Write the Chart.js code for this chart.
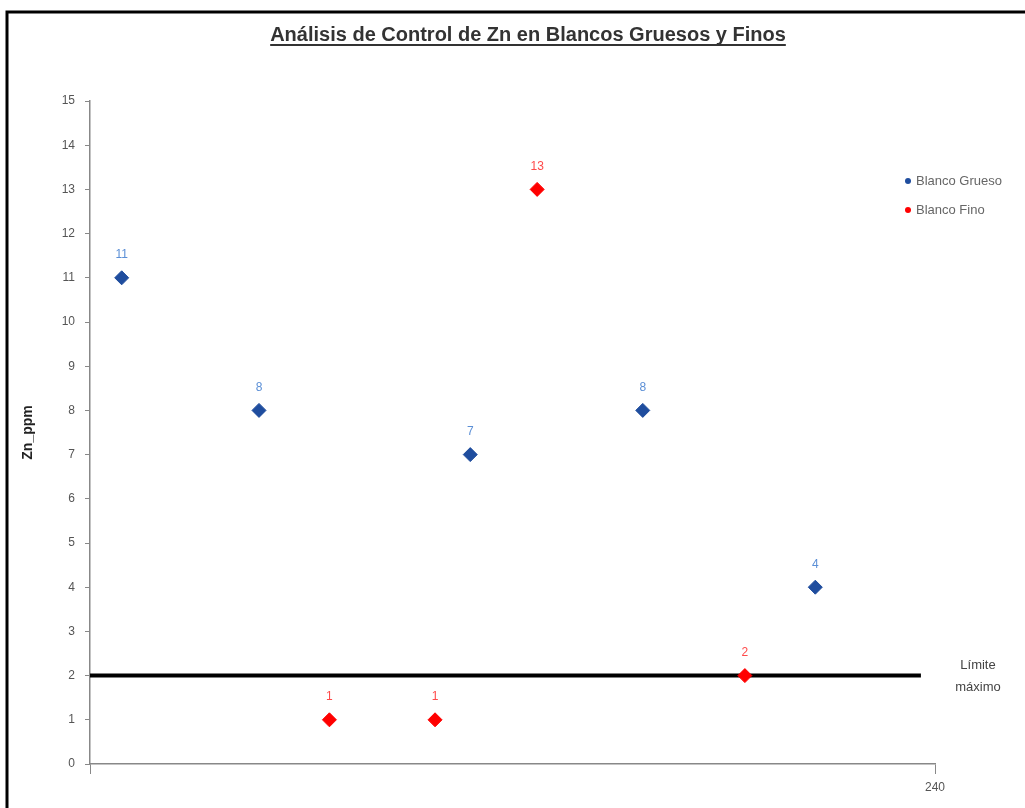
<!DOCTYPE html>
<html>
<head>
<meta charset="utf-8">
<script src="https://cdn.jsdelivr.net/npm/chart.js"></script>
<style>
  body { margin: 0; background: #fff; }
  canvas { display: block; }
</style>
</head>
<body>
<canvas id="myChart" width="1025" height="808"></canvas>
<script>
// data
const gruesoX = [9, 48, 108, 157, 206];
const gruesoY = [11, 8, 7, 8, 4];
const finoX = [68, 98, 127, 186];
const finoY = [1, 1, 13, 2];
const limiteX = [0, 236];
const limiteY = [2, 2];
const xMin = 0, xMax = 240;
const yMin = 0, yMax = 15;

const titulo = 'Análisis de Control de Zn en Blancos Gruesos y Finos';
const ejeY = 'Zn_ppm';
const limiteLabel = ['Límite', 'máximo'];

const toPoints = (xs, ys) => xs.map((x, i) => ({ x: x, y: ys[i] }));

// Frame, title, legend and point labels
const decor = {
    id: 'decor',
    beforeDraw(chart) {
        const ctx = chart.ctx;
        ctx.save();
        ctx.fillStyle = '#fff';
        ctx.fillRect(0, 0, chart.width, chart.height);
        ctx.strokeStyle = '#000';
        ctx.lineWidth = 3;
        ctx.beginPath();
        ctx.moveTo(7, chart.height + 5);
        ctx.lineTo(7, 12);
        ctx.lineTo(chart.width + 5, 12);
        ctx.stroke();
        ctx.restore();
    },
    afterDatasetsDraw(chart) {
        const ctx = chart.ctx;
        ctx.save();
        ctx.font = '12px "Liberation Sans", Arial, sans-serif';
        ctx.textAlign = 'center';
        ctx.textBaseline = 'middle';
        [[0, '#5b8fd6'], [1, '#ff4a4a']].forEach(([idx, color]) => {
            const meta = chart.getDatasetMeta(idx);
            const ds = chart.data.datasets[idx];
            ctx.fillStyle = color;
            meta.data.forEach((pt, i) => {
                ctx.fillText(String(ds.data[i].y), pt.x, pt.y - 23);
            });
        });
        ctx.restore();
    },
    afterDraw(chart) {
        const ctx = chart.ctx;
        const area = chart.chartArea;
        ctx.save();
        // title
        ctx.font = 'bold 20px "Liberation Sans", Arial, sans-serif';
        ctx.fillStyle = '#333';
        ctx.textAlign = 'center';
        ctx.textBaseline = 'alphabetic';
        const cx = 528;
        ctx.fillText(titulo, cx, 41);
        const w = ctx.measureText(titulo).width;
        ctx.fillRect(cx - w / 2, 44, w, 2);

        // y axis title
        ctx.save();
        ctx.translate(28, (area.top + area.bottom) / 2);
        ctx.rotate(-Math.PI / 2);
        ctx.font = 'bold 14px "Liberation Sans", Arial, sans-serif';
        ctx.fillStyle = '#222';
        ctx.textAlign = 'center';
        ctx.textBaseline = 'middle';
        ctx.fillText(ejeY, 0, 0);
        ctx.restore();

        // limit label
        const yLim = chart.scales.y.getPixelForValue(limiteY[0]);
        ctx.font = '13px "Liberation Sans", Arial, sans-serif';
        ctx.fillStyle = '#444';
        ctx.textAlign = 'center';
        ctx.textBaseline = 'middle';
        ctx.fillText(limiteLabel[0], 978, yLim - 10);
        ctx.fillText(limiteLabel[1], 978, yLim + 12);

        // legend
        ctx.font = '13px "Liberation Sans", Arial, sans-serif';
        ctx.textAlign = 'left';
        [[0, 181], [1, 210]].forEach(([idx, y]) => {
            const ds = chart.data.datasets[idx];
            ctx.fillStyle = ds.backgroundColor;
            ctx.beginPath();
            ctx.arc(908, y, 3, 0, Math.PI * 2);
            ctx.fill();
            ctx.fillStyle = '#666';
            ctx.fillText(ds.label, 916, y);
        });
        ctx.restore();
    }
};

const ctx = document.getElementById('myChart').getContext('2d');
const chart = new Chart(ctx, {
    type: 'scatter',
    data: {
        datasets: [{
            label: 'Blanco Grueso',
            data: toPoints(gruesoX, gruesoY),
            backgroundColor: '#1f4d9e',
            borderColor: '#1f4d9e',
            pointStyle: 'rectRot',
            pointRadius: 7,
            order: 0
        }, {
            label: 'Blanco Fino',
            data: toPoints(finoX, finoY),
            backgroundColor: '#ff0000',
            borderColor: '#ff0000',
            pointStyle: 'rectRot',
            pointRadius: 7,
            order: 1
        }, {
            label: 'Límite máximo',
            data: toPoints(limiteX, limiteY),
            showLine: true,
            borderColor: '#000',
            borderWidth: 4,
            pointRadius: 0,
            order: 2
        }]
    },
    options: {
        responsive: false,
        animation: false,
        devicePixelRatio: 1,
        layout: { padding: { top: 101, left: 0, right: 90, bottom: 14 } },
        plugins: {
            legend: { display: false },
            tooltip: { enabled: false }
        },
        scales: {
            x: {
                type: 'linear',
                min: xMin,
                max: xMax,
                afterFit: s => { s.height = 30; },
                ticks: {
                    stepSize: xMax,
                    color: '#555',
                    font: { size: 12, family: '"Liberation Sans", Arial, sans-serif' },
                    maxRotation: 0,
                    padding: 6,
                    callback: v => (v === xMax ? String(v) : '')
                },
                grid: { drawOnChartArea: false, tickLength: 10, color: '#888' },
                border: { color: '#888', width: 1.5 }
            },
            y: {
                min: yMin,
                max: yMax,
                afterFit: s => { s.width = 90; },
                ticks: {
                    stepSize: 1,
                    color: '#555',
                    font: { size: 12, family: '"Liberation Sans", Arial, sans-serif' },
                    padding: 10
                },
                grid: { drawOnChartArea: false, tickLength: 5, color: '#888' },
                border: { color: '#888', width: 1.5 }
            }
        }
    },
    plugins: [decor]
});
</script>
</body>
</html>
